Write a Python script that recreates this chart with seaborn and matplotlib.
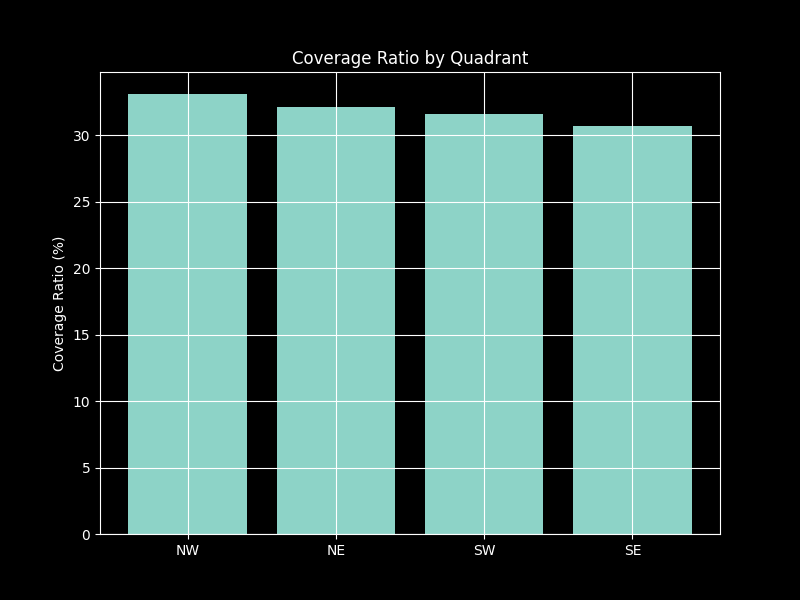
import matplotlib
matplotlib.use("Agg")
import matplotlib.pyplot as plt
import seaborn as sns
import pandas as pd

quadrants = ["NW", "NE", "SW", "SE"]
coverage = [33.1, 32.12, 31.6, 30.7]

plt.style.use("dark_background")
df = pd.DataFrame({"Quadrant": quadrants, "Coverage": coverage})

fig, ax = plt.subplots(figsize=(8, 6), dpi=100)
sns.barplot(data=df, x="Quadrant", y="Coverage", color="#8dd3c7",
            saturation=1, width=0.8, ax=ax, linewidth=0, edgecolor="none")
n = len(quadrants)
ax.set_xlim(-0.4 - 0.19, (n - 1) + 0.4 + 0.19)
ax.grid(True, color="white")
ax.set_axisbelow("line")
ax.set_xlabel("")
ax.set_ylabel("Coverage Ratio (%)")
ax.set_title("Coverage Ratio by Quadrant")
fig.savefig("out.png", dpi=100)
